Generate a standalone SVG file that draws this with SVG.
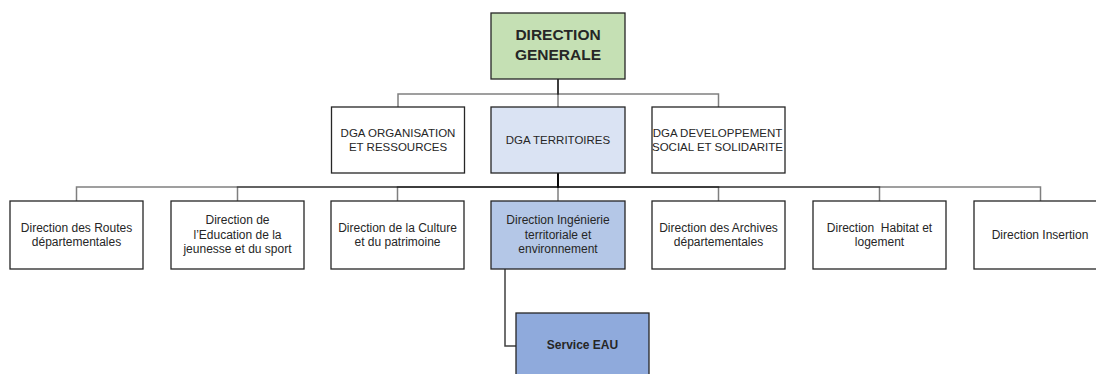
<svg xmlns="http://www.w3.org/2000/svg" width="1096" height="374" viewBox="0 0 1096 374">
<style>
.box{stroke:#262626;stroke-width:1.3}
.w{fill:#ffffff}
.t{font-family:"Liberation Sans",Arial,sans-serif;font-size:12px;fill:#262626;text-anchor:middle}
.c{font-size:11.5px}
.b{font-weight:bold}
.con{fill:none;stroke:#000;stroke-opacity:0.5;stroke-width:1.5}
</style>
<rect width="1096" height="374" fill="#ffffff"/>
<g id="connectors">
<path class="con" d="M558,79V94H398V107"/>
<path class="con" d="M558,79V107"/>
<path class="con" d="M558,79V94H718.5V107"/>
<path class="con" d="M558,173V187H76.5V201"/>
<path class="con" d="M558,173V187H237.5V201"/>
<path class="con" d="M558,173V187H397.5V201"/>
<path class="con" d="M558,173V201"/>
<path class="con" d="M558,173V187H718.5V201"/>
<path class="con" d="M558,173V187H879.5V201"/>
<path class="con" d="M558,173V187H1040.5V201"/>
<path fill="none" stroke="#404040" stroke-width="1.5" d="M505,269V346H516"/>
</g>
<g id="dg">
<rect class="box" x="491" y="13" width="134" height="66" fill="#C5E0B4"/>
<text class="t b" style="font-size:15.5px" x="558" y="40">DIRECTION</text>
<text class="t b" style="font-size:15.5px" x="558" y="60">GENERALE</text>
</g>
<g id="dga-org">
<rect class="box w" x="331.5" y="107" width="133" height="66"/>
<text class="t c" x="398" y="136.5">DGA ORGANISATION</text>
<text class="t c" x="398" y="151">ET RESSOURCES</text>
</g>
<g id="dga-territoires">
<rect class="box" x="491" y="107" width="134" height="66" fill="#DAE3F3"/>
<text class="t c" x="558" y="143.5">DGA TERRITOIRES</text>
</g>
<g id="dga-dev">
<rect class="box w" x="652" y="107" width="133" height="66"/>
<text class="t c" x="717.5" y="136.5">DGA DEVELOPPEMENT</text>
<text class="t c" x="717.5" y="151">SOCIAL ET SOLIDARITE</text>
</g>
<g id="dir-routes">
<rect class="box w" x="10" y="201" width="133" height="68"/>
<text class="t" x="76.5" y="231.5">Direction des Routes</text>
<text class="t" x="76.5" y="245.5">départementales</text>
</g>
<g id="dir-education">
<rect class="box w" x="171" y="201" width="133" height="68"/>
<text class="t" x="237.5" y="224">Direction de</text>
<text class="t" x="237.5" y="238.5">l’Education de la</text>
<text class="t" x="237.5" y="253">jeunesse et du sport</text>
</g>
<g id="dir-culture">
<rect class="box w" x="331" y="201" width="133" height="68"/>
<text class="t" x="397.5" y="231.5">Direction de la Culture</text>
<text class="t" x="397.5" y="245.5">et du patrimoine</text>
</g>
<g id="dir-ingenierie">
<rect class="box" x="491" y="201" width="134" height="68" fill="#B4C7E7"/>
<text class="t" x="558" y="224">Direction Ingénierie</text>
<text class="t" x="558" y="238.5">territoriale et</text>
<text class="t" x="558" y="253">environnement</text>
</g>
<g id="dir-archives">
<rect class="box w" x="652" y="201" width="133" height="68"/>
<text class="t" x="718.5" y="231.5">Direction des Archives</text>
<text class="t" x="718.5" y="245.5">départementales</text>
</g>
<g id="dir-habitat">
<rect class="box w" x="813" y="201" width="133" height="68"/>
<text class="t" x="879.5" y="231.5" xml:space="preserve">Direction  Habitat et</text>
<text class="t" x="879.5" y="245.5">logement</text>
</g>
<g id="dir-insertion">
<rect class="box w" x="974" y="201" width="133" height="68"/>
<text class="t" x="1040" y="239">Direction Insertion</text>
</g>
<g id="service-eau">
<rect class="box" x="516" y="313" width="133" height="68" fill="#8FAADC"/>
<text class="t b" x="582.5" y="349">Service EAU</text>
</g>
</svg>
